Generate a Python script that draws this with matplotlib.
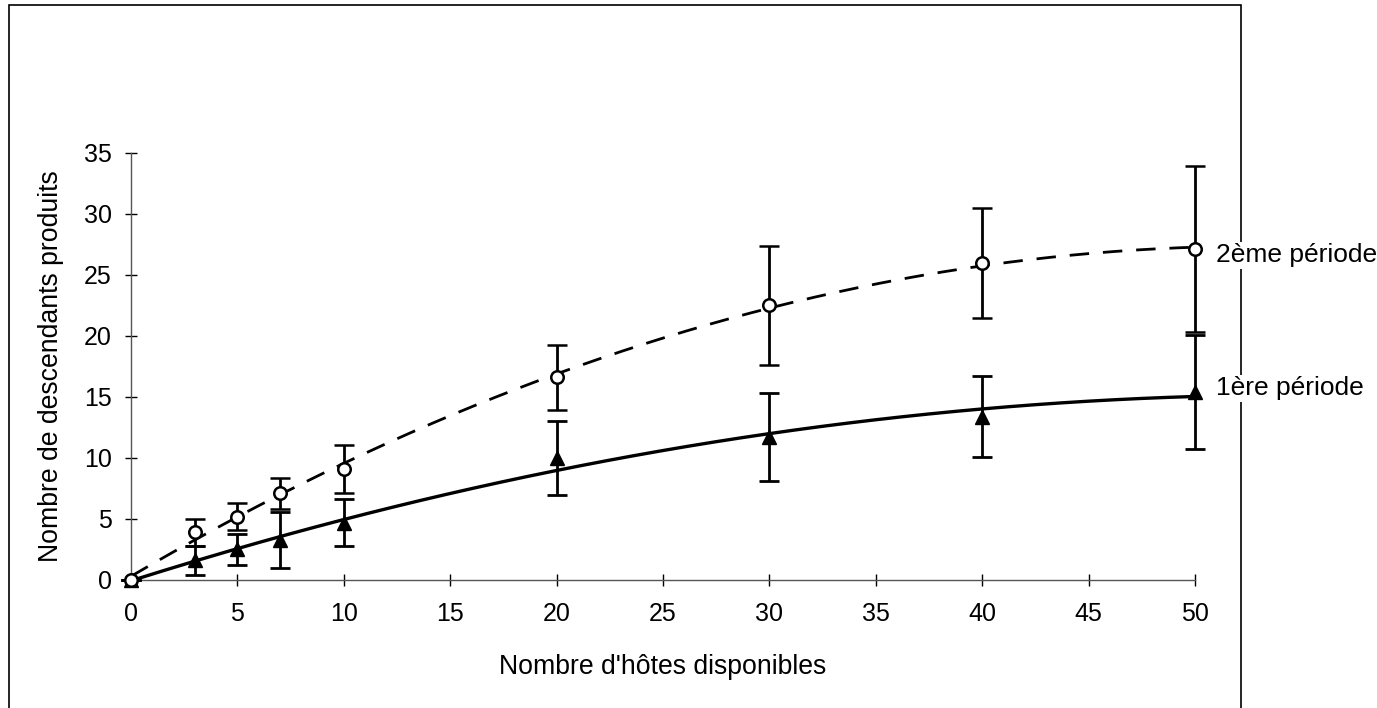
import numpy as np
import matplotlib
matplotlib.use('Agg')
import matplotlib.pyplot as plt
from matplotlib.patches import Rectangle

plt.rcParams['font.family'] = ['Liberation Sans', 'DejaVu Sans']

# Number of hosts offered
hotes = [0, 3, 5, 7, 10, 20, 30, 40, 50]

# Mean offspring produced and error, first period
moy_p1 = [0, 1.6, 2.5, 3.3, 4.7, 10.0, 11.7, 13.4, 15.4]
err_p1 = [0, 1.2, 1.3, 2.3, 1.9, 3.0, 3.6, 3.3, 4.7]

# Mean offspring produced and error, second period
moy_p2 = [0, 3.9, 5.2, 7.1, 9.1, 16.6, 22.5, 26.0, 27.1]
err_p2 = [0, 1.1, 1.1, 1.3, 2.0, 2.7, 4.9, 4.5, 6.8]

fig = plt.figure(figsize=(13.77, 7.08), dpi=100)
ax = fig.add_axes([0.0951, 0.1808, 0.7727, 0.6031])
ax.set_zorder(2)
ax.patch.set_alpha(0)

# frame around the whole chart area
fig.patches.append(Rectangle((0.0065, -0.01), 0.8947, 1.003, transform=fig.transFigure,
                             fill=False, edgecolor='black', linewidth=1.2, zorder=0))

# second-order trend lines fitted on the means
xs = np.linspace(0, 50, 200)
c1 = np.polyfit(hotes, moy_p1, 2)
c2 = np.polyfit(hotes, moy_p2, 2)
ax.plot(xs, np.polyval(c1, xs), color='black', linewidth=2.4, zorder=2)
ax.plot(xs, np.polyval(c2, xs), color='black', linewidth=2.0, dashes=(7, 5), zorder=2)

eb1 = ax.errorbar(hotes, moy_p1, yerr=err_p1, fmt='^', color='black', markersize=10,
                  ecolor='black', elinewidth=2, capsize=7, capthick=2, zorder=3)
eb2 = ax.errorbar(hotes, moy_p2, yerr=err_p2, fmt='o', color='black', markerfacecolor='white',
                  markeredgecolor='black', markeredgewidth=1.8, markersize=9,
                  ecolor='black', elinewidth=2, capsize=7, capthick=2, zorder=4)
for eb in (eb1, eb2):
    for art in eb.lines[:1] + eb.lines[1] + eb.lines[2]:
        art.set_clip_on(False)

lbl = dict(fontsize=19, va='center', ha='left', clip_on=False,
           bbox=dict(facecolor='white', edgecolor='none', pad=1))
ax.text(51.0, 26.6, '2ème période', **lbl)
ax.text(51.0, 15.7, '1ère période', **lbl)

ax.set_xlim(0, 50)
ax.set_ylim(0, 35)
ax.set_xticks(range(0, 51, 5))
ax.set_yticks(range(0, 36, 5))
ax.tick_params(axis='both', direction='inout', length=8, width=1, labelsize=18, colors='black')
ax.tick_params(axis='x', pad=12)
ax.tick_params(axis='y', pad=10)

for s in ['top', 'right']:
    ax.spines[s].set_visible(False)
for s in ['left', 'bottom']:
    ax.spines[s].set_linewidth(1)
    ax.spines[s].set_color('#555555')

ax.set_xlabel("Nombre d'hôtes disponibles", fontsize=19.2, labelpad=20)
ax.set_ylabel('Nombre de descendants produits', fontsize=19.2, labelpad=14)

fig.savefig('out.png', dpi=100)
